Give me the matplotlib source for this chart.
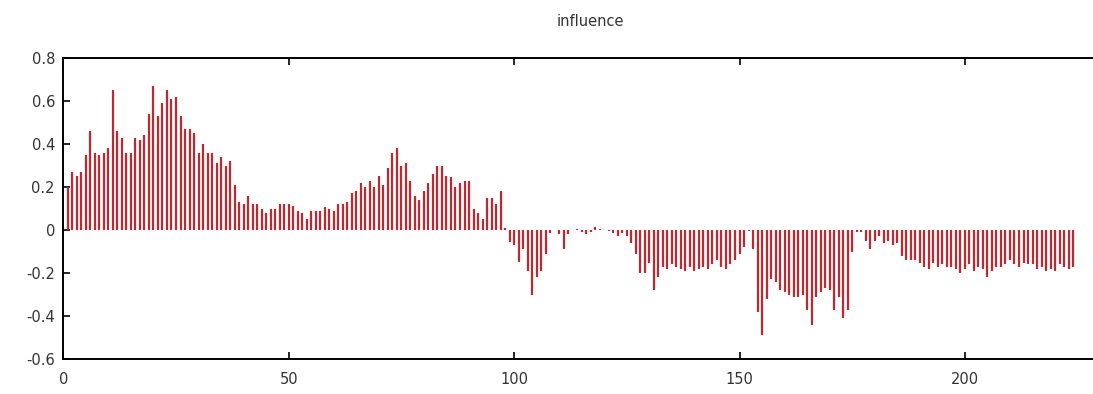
import matplotlib
matplotlib.use("Agg")
import matplotlib.pyplot as plt
import numpy as np

# influence per index (x = 1..N)
positive_part = [
    0.20, 0.27, 0.25, 0.27, 0.35, 0.46, 0.36, 0.35, 0.36, 0.38,
    0.65, 0.46, 0.43, 0.36, 0.36, 0.43, 0.42, 0.44, 0.54, 0.67,
    0.53, 0.59, 0.65, 0.61, 0.62, 0.53, 0.47, 0.47, 0.45, 0.36,
    0.40, 0.36, 0.36, 0.31, 0.34, 0.30, 0.32, 0.21, 0.13, 0.12,
    0.16, 0.12, 0.12, 0.10, 0.08, 0.10, 0.10, 0.12, 0.12, 0.12,
    0.11, 0.09, 0.08, 0.05, 0.09, 0.09, 0.09, 0.105, 0.10, 0.09,
    0.12, 0.12, 0.13, 0.17, 0.18, 0.22, 0.20, 0.23, 0.20, 0.25,
    0.21, 0.29, 0.36, 0.38, 0.30, 0.31, 0.23, 0.16, 0.14, 0.18,
    0.22, 0.26, 0.30, 0.30, 0.25, 0.245, 0.20, 0.22, 0.23, 0.23,
    0.10, 0.08, 0.05, 0.15, 0.15, 0.12, 0.18, 0.01,
]
negative_part = [
    -0.054, -0.07, -0.15, -0.09, -0.19, -0.30, -0.22, -0.19, -0.11, -0.015,
    0.0, -0.02, -0.09, -0.02, 0.0, 0.005, -0.01, -0.02, -0.01, 0.015,
    0.005, 0.0, -0.005, -0.015, -0.03, -0.015, -0.03, -0.06, -0.11, -0.20,
    -0.20, -0.155, -0.28, -0.22, -0.17, -0.18, -0.16, -0.17, -0.18, -0.19,
    -0.17, -0.19, -0.18, -0.17, -0.18, -0.16, -0.14, -0.17, -0.18, -0.16,
    -0.14, -0.11, -0.08, -0.005, -0.09, -0.38, -0.49, -0.32, -0.23, -0.24,
    -0.28, -0.29, -0.30, -0.31, -0.31, -0.30, -0.37, -0.44, -0.31, -0.29,
    -0.27, -0.28, -0.37, -0.31, -0.41, -0.37, -0.10, -0.01, -0.01, -0.05,
    -0.09, -0.05, -0.03, -0.06, -0.05, -0.07, -0.06, -0.12, -0.14, -0.14,
    -0.14, -0.155, -0.17, -0.18, -0.155, -0.17, -0.16, -0.17, -0.17, -0.18,
    -0.20, -0.18, -0.16, -0.19, -0.17, -0.18, -0.22, -0.19, -0.17, -0.17,
    -0.16, -0.14, -0.16, -0.17, -0.155, -0.16, -0.16, -0.18, -0.17, -0.19,
    -0.18, -0.19, -0.16, -0.17, -0.18, -0.17,
]
influence = np.array(positive_part + negative_part)
index = np.arange(1, len(influence) + 1)

x_ticks = [0, 50, 100, 150, 200]
y_ticks = [-0.6, -0.4, -0.2, 0, 0.2, 0.4, 0.6, 0.8]
y_tick_labels = ["-0.6", "-0.4", "-0.2", "0", "0.2", "0.4", "0.6", "0.8"]

plt.rcParams["font.family"] = ["DejaVu Sans"]

fig = plt.figure(figsize=(10.93, 3.94), dpi=100)
ax = fig.add_axes([63.3 / 1093, 35 / 394, 1 - 63.3 / 1093, 301 / 394])

ax.vlines(index, 0, influence, color="#c0282f", linewidth=1.6)

ax.set_xlim(0, (1093 - 63.3) / 4.508)
ax.set_ylim(-0.6, 0.8)
ax.set_xticks(x_ticks)
ax.set_yticks(y_ticks)
ax.set_yticklabels(y_tick_labels)
ax.tick_params(direction="in", length=5, width=1.2, labelsize=10.5,
               labelcolor="#333333", top=True, pad=6)
ax.tick_params(axis="x", pad=9)
for side in ["left", "top", "bottom"]:
    ax.spines[side].set_linewidth(1.4)
ax.spines["right"].set_visible(False)

fig.text(590 / 1093, 1 - 22 / 394, "influence", ha="center", va="center",
         fontsize=10.5, color="#333333")

fig.savefig("out.png", dpi=100)
